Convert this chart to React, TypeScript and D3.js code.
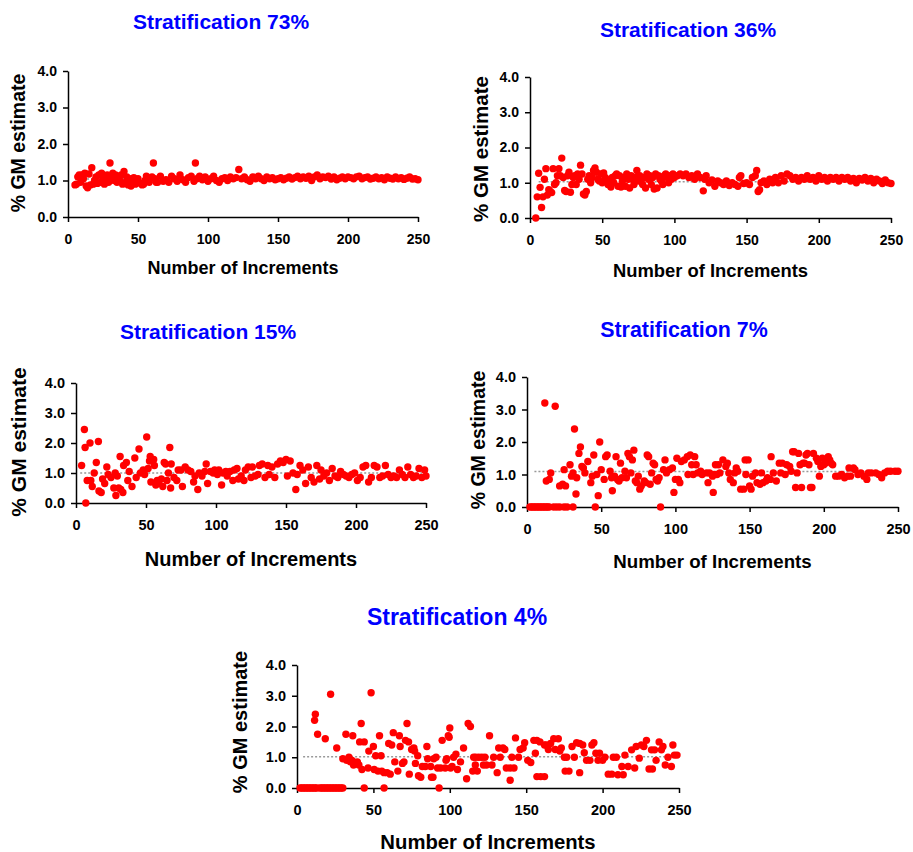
import React, { useEffect, useRef } from 'react';
import * as d3 from 'd3';

// tick labels
const xTicks = [0, 50, 100, 150, 200, 250];
const yTicks = [0, 1, 2, 3, 4];

// [number of increments, % GM estimate]
const strat73 = [
  [5,0.88],[6,0.9],[7,1.1],[8,1.15],[9,0.95],[10,1.15],[11,1.05],[12,1.2],[13,0.85],[14,0.8],[15,1.18],[16,0.88],[17,1.35],[18,0.9],[19,1.0],[20,1.1],
  [21,0.92],[22,1.15],[23,0.95],[24,1.2],[25,1.05],[26,0.9],[27,1.1],[28,1.15],[29,0.95],[30,1.48],[31,1.1],[32,1.2],[33,1.0],[34,1.15],[35,0.95],[36,1.05],
  [37,1.0],[38,1.15],[39,0.9],[40,1.25],[41,0.95],[42,1.1],[43,0.88],[44,1.05],[45,0.85],[46,1.0],[47,1.08],[48,0.9],[50,1.05],[52,0.92],[53,0.88],[54,0.9],
  [55,1.0],[56,1.12],[58,0.95],[60,1.1],[61,1.48],[62,1.05],[63,0.95],[64,0.95],[66,1.12],[68,0.98],[70,1.02],[72,0.95],[74,1.12],[76,1.05],[78,0.98],[80,1.15],
  [82,1.02],[84,0.95],[86,1.08],[88,1.12],[90,0.98],[91,1.48],[92,1.05],[94,1.12],[96,1.02],[98,1.1],[100,0.98],[102,1.05],[104,1.12],[106,1.0],[108,0.95],[110,1.05],
  [112,1.08],[114,1.0],[116,1.1],[118,1.05],[120,1.08],[122,1.3],[124,1.05],[126,1.1],[128,1.02],[130,0.98],[132,1.1],[134,1.05],[136,1.12],[138,1.05],[140,1.0],[142,1.1],
  [144,1.05],[146,1.08],[148,1.02],[150,1.05],[152,1.08],[154,1.02],[156,1.06],[158,1.1],[160,1.04],[162,1.08],[164,1.12],[166,1.05],[168,1.1],[170,1.06],[172,1.12],[174,1.0],
  [176,1.1],[178,1.15],[180,1.05],[182,1.1],[184,1.08],[186,1.12],[188,1.04],[190,1.1],[192,1.02],[194,1.06],[196,1.1],[198,1.05],[200,1.1],[202,1.08],[204,1.05],[206,1.1],
  [208,1.12],[210,1.05],[212,1.08],[214,1.1],[216,1.04],[218,1.06],[220,1.1],[222,1.05],[224,1.08],[226,1.02],[228,1.1],[230,1.06],[232,1.04],[234,1.1],[236,1.05],[238,1.08],
  [240,1.03],[242,1.06],[244,1.1],[246,1.04],[248,1.05],[250,1.02],
];

const strat36 = [
  [4,0.0],[5,0.6],[6,1.27],[7,0.87],[8,0.3],[9,0.6],[10,1.1],[11,1.4],[12,0.65],[13,0.8],[14,0.75],[15,0.72],[16,1.4],[17,0.95],[18,1.0],[19,1.2],
  [20,1.4],[21,1.2],[22,1.7],[23,1.15],[24,0.78],[25,0.75],[26,1.2],[27,1.3],[28,0.73],[29,0.95],[30,1.15],[31,1.2],[32,0.95],[33,1.25],[34,1.1],[35,1.5],
  [36,1.25],[37,0.68],[38,0.65],[39,0.75],[40,1.1],[41,1.2],[42,1.0],[43,1.15],[44,1.35],[45,1.42],[46,1.3],[47,1.1],[48,1.05],[49,1.25],[50,1.0],[51,1.28],
  [52,1.15],[53,1.1],[54,0.95],[55,1.05],[56,0.88],[57,1.15],[58,1.0],[59,1.2],[60,1.25],[61,0.9],[62,1.2],[63,0.88],[64,1.05],[65,1.15],[66,0.9],[67,1.25],
  [68,1.1],[69,0.85],[70,1.2],[71,1.1],[72,0.95],[73,1.15],[74,1.35],[75,1.05],[76,1.2],[77,1.1],[78,0.95],[79,1.15],[80,0.85],[81,1.25],[82,1.1],[83,1.2],
  [84,0.95],[85,1.15],[86,0.82],[87,1.25],[88,0.85],[89,1.2],[90,1.1],[91,1.05],[92,0.95],[93,1.2],[94,1.25],[95,1.15],[96,1.0],[97,1.2],[98,1.1],[99,1.25],
  [100,1.15],[102,1.2],[104,1.25],[106,1.2],[108,1.25],[110,1.15],[112,1.2],[114,1.1],[116,1.25],[118,1.15],[120,0.77],[121,1.1],[122,1.2],[124,1.0],[126,1.08],[128,0.9],
  [130,1.05],[132,1.0],[134,0.95],[136,1.05],[138,0.92],[140,1.0],[142,0.95],[144,0.9],[145,1.15],[146,1.2],[148,0.98],[150,1.0],[152,0.95],[154,1.15],[156,1.2],[157,1.35],
  [158,0.75],[159,0.8],[160,1.0],[162,1.05],[164,0.95],[166,1.1],[168,1.0],[170,1.15],[172,1.0],[174,1.2],[176,1.05],[178,1.25],[180,1.2],[182,1.1],[184,1.15],[186,1.05],
  [188,1.15],[190,1.1],[192,1.2],[194,1.1],[196,1.15],[198,1.05],[200,1.2],[202,1.1],[204,1.15],[206,1.05],[208,1.15],[210,1.1],[212,1.15],[214,1.05],[216,1.15],[218,1.1],
  [220,1.15],[222,1.05],[224,1.12],[226,1.0],[228,1.12],[230,1.08],[232,1.15],[234,1.05],[236,1.12],[238,1.0],[240,1.1],[242,1.05],[244,0.98],[246,1.08],[248,1.0],[250,0.98],
];

const strat15 = [
  [4,1.25],[6,2.45],[6.5,1.85],[7,0.0],[8,0.75],[10,2.0],[10.6,0.75],[11.6,0.55],[13,1.0],[14.5,1.35],[16,2.05],[16.4,0.4],[18,0.35],[19,0.8],[20.5,0.65],[22,1.2],
  [23,0.95],[25,0.85],[27,0.5],[28,1.0],[28.5,0.25],[29.5,0.9],[30.5,0.5],[31.5,1.55],[32,0.45],[33.5,0.35],[34,1.25],[36,1.35],[37,0.75],[38,1.05],[40,0.55],[42,1.5],
  [43,0.85],[45,1.8],[46,1.0],[48,1.1],[49,0.95],[50.5,2.2],[51.5,1.15],[52.5,1.4],[53,1.55],[53.5,0.7],[55.5,1.45],[56,1.25],[57,0.6],[58,0.75],[59,0.65],[61,0.8],
  [62,0.55],[63,1.35],[64,1.3],[65,0.75],[66,1.0],[67,1.85],[67.6,0.5],[68,1.3],[70,0.85],[72,0.75],[73,1.1],[75,1.1],[76,0.55],[78,1.2],[80,1.1],[82,1.05],
  [84,0.7],[85,0.9],[87,0.45],[88,1.0],[90,0.9],[92,1.05],[93,1.3],[94,0.65],[96,1.05],[98,1.0],[99,1.1],[101,0.95],[102,1.1],[104,0.6],[105,1.0],[107,1.05],
  [108,0.9],[110,1.05],[112,0.75],[113,1.1],[115,1.15],[116,0.8],[118,0.9],[120,0.75],[121,1.1],[123,1.2],[125,0.85],[126,1.2],[128,0.9],[130,0.95],[131,1.25],[133,1.3],
  [135,0.85],[137,1.25],[138,0.95],[140,1.2],[142,0.85],[144,1.3],[146,1.4],[148,1.35],[150,1.45],[151,0.9],[153,1.4],[155,1.0],[157,0.45],[158,0.95],[160,1.25],[162,1.1],
  [164,0.65],[166,1.2],[168,0.85],[170,0.7],[172,1.25],[174,0.8],[175,1.1],[177,0.9],[179,1.0],[181,0.75],[183,1.15],[185,0.9],[187,0.85],[189,1.05],[191,0.95],[193,0.9],
  [195,0.85],[197,0.95],[199,1.0],[201,0.75],[203,0.85],[205,1.2],[207,1.25],[209,0.7],[211,0.85],[213,1.25],[215,1.2],[217,0.85],[219,0.9],[221,1.25],[223,0.95],[225,0.85],
  [227,0.9],[229,0.85],[231,1.1],[233,0.95],[235,0.85],[237,1.2],[239,0.95],[241,0.85],[243,0.9],[245,1.15],[247,0.85],[249,1.1],[250,0.9],
];

const strat7 = [
  [2,0],[3,0],[4,0],[5,0],[6,0],[7,0],[8,0],[9,0],[10,0],[11,0],[12,0],[13,0],[14,0],[15,0],[18,0],[20,0],
  [22,0],[25,0],[27,0],[31,0],[46,0],[90,0],
  [12,3.2],[13,0.8],[15,0.85],[16,1.05],[19,3.1],[22,0.65],[24,0.7],[25,1.15],[26,0.65],[29,1.3],[30,0.95],[31,1.05],[32,2.4],[33,0.4],[33.5,0.9],[35,1.65],
  [36,1.85],[37,1.25],[38,1.2],[39,1.05],[41,1.4],[43,0.75],[44,0.95],[45,1.6],[47,1.0],[48,0.35],[49,2.0],[50,1.15],[52,0.85],[53,1.55],[54,1.6],[56,1.1],
  [57,0.9],[57.5,0.5],[59,0.95],[60,1.55],[61,0.85],[62,0.8],[63,1.35],[64,0.9],[66,1.1],[67,0.9],[68,1.65],[69,1.55],[70,1.05],[71,1.45],[72,1.75],[73,0.8],
  [74,0.75],[75,0.95],[76,0.55],[77,0.65],[79,0.8],[80,0.75],[81,1.6],[82,1.55],[83,0.7],[84,1.05],[85,1.35],[86,1.3],[87,0.85],[88,0.8],[89,0.9],[92,1.15],
  [93,1.45],[94,1.05],[96,1.15],[98,1.2],[99,0.45],[100,0.85],[101,1.5],[102,0.85],[103,0.75],[104,1.4],[106,1.45],[108,1.55],[108.5,1.0],[110,1.6],[111,1.3],[112,1.0],
  [113,1.55],[114,1.3],[115,1.05],[117,1.1],[118,1.0],[121,1.05],[122,0.75],[123,1.05],[125,0.95],[125.5,0.45],[126,1.0],[127,1.3],[128,1.0],[129,1.3],[130,1.05],[132,1.45],
  [134,1.25],[135,1.35],[136,1.05],[137,0.85],[139,0.75],[140,1.05],[141,1.2],[142,1.1],[144,0.55],[146,0.55],[147,1.45],[147.5,1.0],[149,1.45],[150,0.65],[151,0.55],[152,0.95],
  [154,1.05],[155,0.75],[157,0.7],[158,1.05],[159,0.75],[161,0.8],[162,0.9],[164,0.85],[164.5,1.55],[166,1.05],[168,0.8],[170,1.35],[171,1.05],[172,1.35],[174,1.0],[175,1.3],
  [177,1.25],[178,1.1],[179,1.7],[180,1.7],[181,0.6],[182,1.05],[183,1.65],[184,1.3],[185,0.6],[186,1.35],[187,1.35],[188,1.6],[189,1.65],[190,1.3],[191,0.6],[192,0.6],
  [193,1.65],[195,1.5],[196,1.4],[197,0.95],[198,1.25],[199,1.5],[200,1.3],[201,1.35],[202,1.45],[203,1.55],[204,1.45],[205,1.35],[206,1.3],[208,0.95],[210,0.95],[212,1.0],
  [214,0.9],[216,0.95],[217,1.2],[218,0.95],[220,1.2],[221,1.15],[223,1.0],[225,1.05],[227,0.95],[229,0.85],[230,1.05],[232,1.05],[235,1.05],[237,1.0],[239,0.9],[241,1.05],
  [243,1.1],[245,1.1],[248,1.1],[250,1.1],
];

const strat4 = [
  [2,0],[3,0],[4,0],[5,0],[6,0],[7,0],[8,0],[9,0],[10,0],[11,0],[12,0],[13,0],[15,0],[16,0],[17,0],[18,0],
  [19,0],[20,0],[21,0],[22,0],[23,0],[24,0],[25,0],[26,0],[27,0],[28,0],[29,0],[30,0],[44,0],[57,0],[93,0],
  [11.5,2.2],[12,2.4],[13.5,1.75],[18.5,1.6],[22,3.05],[26,1.3],[30,0.95],[32,1.75],[32.5,0.9],[34,1.0],[35,0.85],[36,0.9],[36.5,1.7],[37,0.75],[38.5,0.8],[39.5,0.85],
  [40.5,0.75],[41,1.5],[42,2.1],[42.5,0.6],[44,1.5],[46.5,0.65],[47,1.2],[48.5,3.1],[50,1.35],[50.5,0.6],[51.5,1.05],[53,0.55],[54,1.7],[55,1.05],[55.5,0.55],[57,0.5],
  [59,0.5],[60,1.45],[61,0.45],[62,1.4],[63,1.8],[64,0.85],[66,0.55],[67,1.7],[67.5,1.35],[69,0.8],[70,0.85],[71,1.55],[72,2.1],[73,1.5],[73.5,0.45],[75,1.25],
  [76.5,1.3],[77,1.2],[77.5,0.8],[79,1.05],[79.5,0.4],[81,0.35],[82,0.7],[84,0.7],[85,1.35],[85.5,0.95],[87.5,0.7],[88,0.35],[89,0.35],[89.5,0.95],[91,1.0],[92,0.65],
  [94,0.65],[95,1.55],[97,0.65],[97.5,0.9],[98,0.95],[99,1.7],[99.6,1.65],[100,1.95],[100.5,0.65],[101.5,0.7],[102.5,1.0],[104,1.1],[105,0.6],[107,0.85],[109,1.3],[111,0.3],
  [112,2.1],[113.5,2.0],[115,0.55],[115.6,1.0],[116.7,0.75],[117,1.0],[118,0.55],[119,1.0],[121,1.0],[122,0.75],[123,1.0],[124,0.75],[126,1.7],[127.6,0.75],[128.7,1.0],[131,0.5],
  [132,1.3],[133,1.0],[134.8,1.3],[136,1.25],[137,0.65],[139.5,0.65],[139.5,0.25],[140.6,1.0],[142,0.65],[143,1.63],[145,1.0],[146,1.25],[148,1.3],[149,1.47],[151,0.9],[153,0.83],
  [155,1.55],[156,1.13],[157,0.37],[157,1.55],[159,1.5],[159.5,0.37],[162,0.37],[162,1.4],[163,1.4],[164.5,1.25],[166,1.45],[168,1.6],[169,1.25],[171,1.6],[172,1.2],[173,1.3],
  [175,1.0],[175.5,0.55],[176.5,1.0],[178,0.55],[180,1.35],[181.5,1.0],[183,1.47],[185,1.45],[185,0.5],[187,1.4],[188,1.15],[189.5,0.9],[191.7,0.9],[193,1.4],[194.3,1.47],[195.6,1.13],
  [197,0.9],[198,1.13],[200,0.9],[201.5,1.0],[203.7,0.45],[206,0.45],[207,1.0],[209,1.0],[210,0.43],[212.6,0.7],[213.5,0.43],[214.6,1.07],[216.7,0.7],[219,1.24],[221,0.65],[222,1.35],
  [224,0.97],[225.4,1.4],[227,1.35],[228.7,1.55],[230.4,0.62],[232,1.24],[232.6,0.62],[234,1.24],[235,0.9],[237,1.5],[238.5,1.24],[239.5,1.35],[241,0.75],[242.8,1.0],[245,0.7],[246,1.4],
  [247,1.07],[248.7,1.07],
];

// dotted level line of each panel
const refLevels = [1.04, 1.03, 1.0, 1.09, 1.02];
const titles = ['Stratification 73%', 'Stratification 36%', 'Stratification 15%', 'Stratification 7%', 'Stratification 4%'];
const series = [strat73, strat36, strat15, strat7, strat4];

// placement of each panel on the page (pasted pictures of different sizes)
const layout = [
  { x0: 68, x1: 418, yTop: 71, yBot: 217, titleX: 221, titleY: 29, titleSize: 21, tickSize: 14, xtY: 274, xtSize: 18, ytX: 18, ytY: 143, ytSize: 19.5, refStart: 5 },
  { x0: 530, x1: 891, yTop: 77, yBot: 218, titleX: 688, titleY: 37, titleSize: 21, tickSize: 14, xtY: 277, xtSize: 18.4, ytX: 480, ytY: 149, ytSize: 20.5, refStart: 6 },
  { x0: 76, x1: 426, yTop: 383, yBot: 503, titleX: 208, titleY: 339, titleSize: 21, tickSize: 14.5, xtY: 566, xtSize: 20, ytX: 18, ytY: 442, ytSize: 21, refStart: 3 },
  { x0: 527, x1: 898, yTop: 377, yBot: 507, titleX: 684, titleY: 337, titleSize: 21.4, tickSize: 14.5, xtY: 568, xtSize: 18.7, ytX: 478, ytY: 440, ytSize: 19.5, refStart: 5 },
  { x0: 297, x1: 679, yTop: 665, yBot: 788, titleX: 457, titleY: 625, titleSize: 23, tickSize: 14.5, xtY: 849, xtSize: 20.3, ytX: 240, ytY: 722, ytSize: 20, refStart: 4 },
];

const font = 'Liberation Sans, Arial, Helvetica, sans-serif';

function App() {
  const ref = useRef<SVGSVGElement>(null);

  useEffect(() => {
    const svg = d3.select(ref.current);
    svg.selectAll('*').remove();

    layout.forEach((p, i) => {
      const g = svg.append('g');
      const x = d3.scaleLinear().domain([0, 250]).range([p.x0, p.x1]);
      const y = d3.scaleLinear().domain([0, 4]).range([p.yBot, p.yTop]);

      const yAxis = g.append('g')
        .attr('transform', `translate(${p.x0},0)`)
        .call(d3.axisLeft(y).tickValues(yTicks).tickFormat(d3.format('.1f')).tickSize(5).tickSizeOuter(0).tickPadding(6));
      const xAxis = g.append('g')
        .attr('transform', `translate(0,${p.yBot})`)
        .call(d3.axisBottom(x).tickValues(xTicks).tickSize(5).tickSizeOuter(0).tickPadding(12));

      [yAxis, xAxis].forEach(a => {
        a.select('.domain').attr('stroke', '#000').attr('stroke-width', 1.5);
        a.selectAll('.tick line').attr('stroke', '#000').attr('stroke-width', 1.5);
        a.selectAll('.tick text')
          .attr('fill', '#000')
          .style('font-family', font)
          .style('font-weight', 'bold')
          .style('font-size', p.tickSize + 'px');
      });

      // dotted level line
      g.append('path')
        .datum([[p.refStart, refLevels[i]], [250, refLevels[i]]])
        .attr('d', d3.line().x(d => x(d[0])).y(d => y(d[1])))
        .attr('stroke', '#999')
        .attr('stroke-width', 1.5)
        .attr('stroke-dasharray', '2,2')
        .attr('fill', 'none');

      g.selectAll('circle')
        .data(series[i])
        .enter()
        .append('circle')
        .attr('cx', d => x(d[0]))
        .attr('cy', d => y(d[1]))
        .attr('r', 3.7)
        .attr('fill', '#ff0000');

      g.append('text')
        .attr('x', p.titleX)
        .attr('y', p.titleY)
        .attr('text-anchor', 'middle')
        .style('font-family', font)
        .style('font-weight', 'bold')
        .style('font-size', p.titleSize + 'px')
        .attr('fill', '#0000ff')
        .text(titles[i]);

      g.append('text')
        .attr('x', (p.x0 + p.x1) / 2)
        .attr('y', p.xtY)
        .attr('text-anchor', 'middle')
        .style('font-family', font)
        .style('font-weight', 'bold')
        .style('font-size', p.xtSize + 'px')
        .text('Number of Increments');

      g.append('text')
        .attr('transform', `translate(${p.ytX},${p.ytY}) rotate(-90)`)
        .attr('text-anchor', 'middle')
        .attr('dominant-baseline', 'central')
        .style('font-family', font)
        .style('font-weight', 'bold')
        .style('font-size', p.ytSize + 'px')
        .text('% GM estimate');
    });
  }, []);

  return (
    <div>
      <svg ref={ref} width={913} height={852} style={{ position: 'absolute', left: 0, top: 0, background: '#fff' }}></svg>
    </div>
  );
}

export default App;
